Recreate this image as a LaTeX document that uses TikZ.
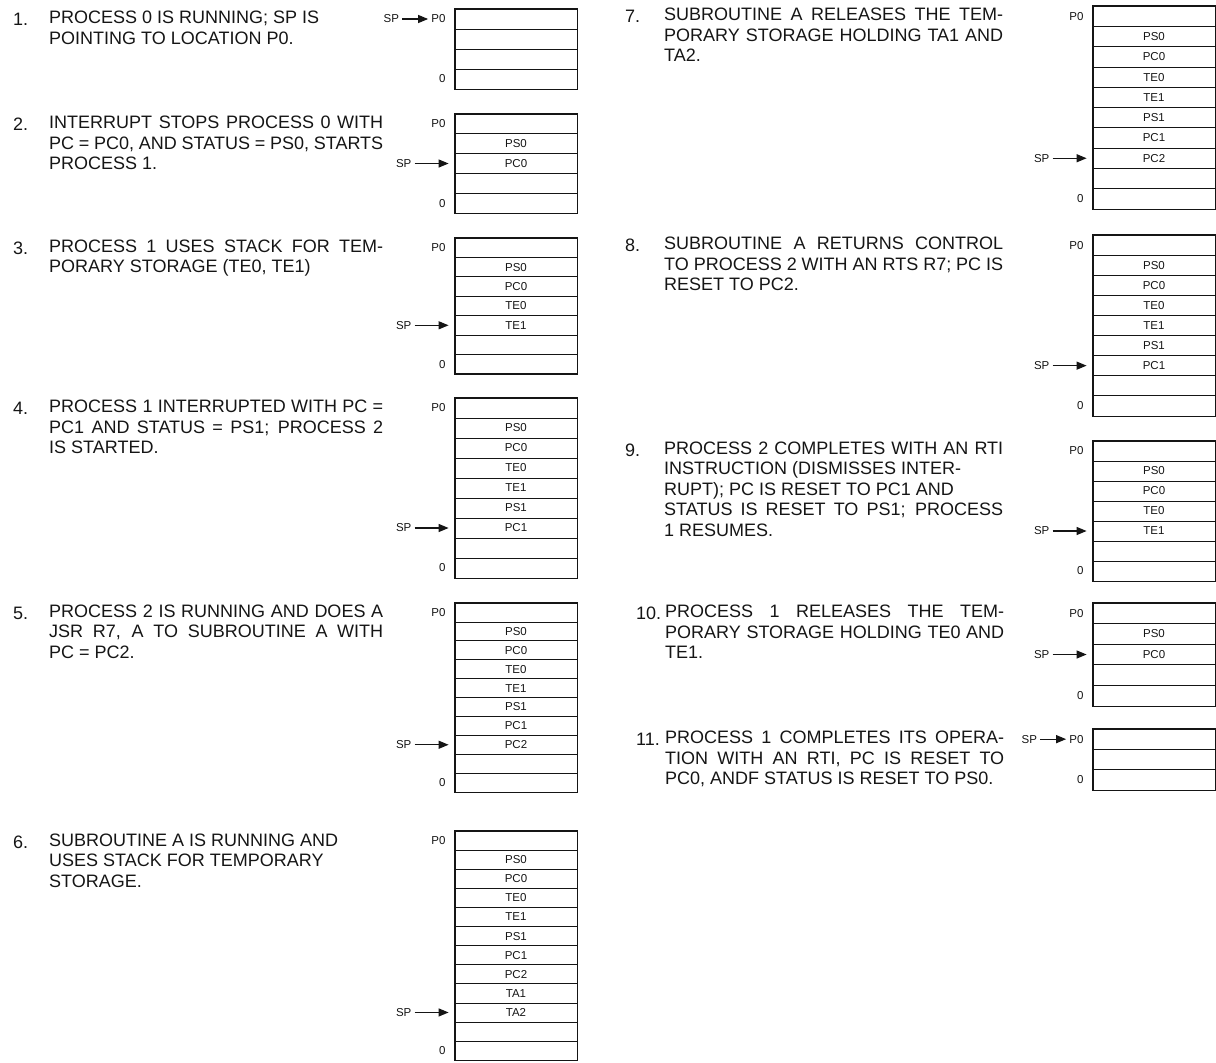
\documentclass[tikz,border=0pt]{standalone}
\usepackage{fontspec}
\setmainfont{Liberation Sans}
\usepackage{tikz}
\usetikzlibrary{arrows.meta, positioning}
\definecolor{cInk}{HTML}{151515}
\newlength{\colw}
\newcommand{\jline}[1]{\makebox[\colw][s]{#1}}
\tikzset{
  cell/.style={rectangle, draw=cInk, line width=0.8pt, minimum width=122pt, inner sep=0pt,
               font=\fontsize{11.5}{13}\selectfont, text=cInk},
  frame/.style={draw=cInk, line width=1.6pt},
  lab/.style={font=\fontsize{11.5}{13}\selectfont, text=cInk, inner sep=0pt},
  num/.style={font=\fontsize{18}{20.5}\selectfont, text=cInk, inner sep=0pt, anchor=base west},
  desc/.style={num, align=left, anchor=north west, execute at begin node=\strut},
  ptr/.style={-{Triangle[length=10pt, width=8pt]}, line width=1.2pt, draw=cInk},
}

\begin{document}
\begin{tikzpicture}[x=1pt, y=-1pt]
  \useasboundingbox (0,0) rectangle (1216,1063);

  % ---- stacks: number / left x / top / row height / rows / SP row / cells
  \foreach \s/\xl/\yt/\hh/\nn/\spr/\cells in {
      1/455/9/20/4/1/{{},{},{},{}},
      2/455/114/19.8/5/3/{{},PS0,PC0,{},{}},
      3/455/238/19.4/7/5/{{},PS0,PC0,TE0,TE1,{},{}},
      4/455/398/20/9/7/{{},PS0,PC0,TE0,TE1,PS1,PC1,{},{}},
      5/455/603/18.9/10/8/{{},PS0,PC0,TE0,TE1,PS1,PC1,PC2,{},{}},
      6/455/831/19.1/12/10/{{},PS0,PC0,TE0,TE1,PS1,PC1,PC2,TA1,TA2,{},{}},
      7/1093/6/20.3/10/8/{{},PS0,PC0,TE0,TE1,PS1,PC1,PC2,{},{}},
      8/1093/235/20.1/9/7/{{},PS0,PC0,TE0,TE1,PS1,PC1,{},{}},
      9/1093/441/20/7/5/{{},PS0,PC0,TE0,TE1,{},{}},
      10/1093/603/20.6/5/3/{{},PS0,PC0,{},{}},
      11/1093/729/20.3/3/1/{{},{},{}}} {
    \foreach \c [count=\r] in \cells
      \node[cell, minimum height=\hh pt] (c\s-\r) at (\xl+61, \yt+\r*\hh-\hh/2) {\c};
    \draw[frame] (c\s-1.north west) rectangle (c\s-\nn.south east);
    \node[lab, left=9pt of c\s-1] (p\s) {P0};
    \node[lab, left=9pt of c\s-\nn] (z\s) {0};
    \ifnum\spr=1
      \node[lab, left=32pt of p\s] (sp\s) {SP};
      \draw[ptr, shorten <=3pt, shorten >=3pt] (sp\s) -- (p\s);
    \else
      \node[lab, left=43pt of c\s-\spr] (sp\s) {SP};
      \draw[ptr, shorten <=3pt] (sp\s) -- ([xshift=-6pt]c\s-\spr.west);
    \fi
  }

  % ---- steps, left column
  \setlength{\colw}{334pt}
  \node[num] (n1) at (13,25.5) {1.};
  \node[desc] (t1) at (49,11.15) {PROCESS 0 IS RUNNING; SP IS\\ POINTING TO LOCATION P0.};
  \node[num] (n2) at (13,130.5) {2.};
  \node[desc] (t2) at (49,116.15) {\jline{INTERRUPT STOPS PROCESS 0 WITH}\\ \jline{PC = PC0, AND STATUS = PS0, STARTS}\\ PROCESS 1.};
  \node[num] (n3) at (13,254) {3.};
  \node[desc] (t3) at (49,239.65) {\jline{PROCESS 1 USES STACK FOR TEM-}\\ PORARY STORAGE (TE0, TE1)};
  \node[num] (n4) at (13,414.5) {4.};
  \node[desc] (t4) at (49,400.15) {\jline{PROCESS 1 INTERRUPTED WITH PC =}\\ \jline{PC1 AND STATUS = PS1; PROCESS 2}\\ IS STARTED.};
  \node[num] (n5) at (13,619) {5.};
  \node[desc] (t5) at (49,604.65) {\jline{PROCESS 2 IS RUNNING AND DOES A}\\ \jline{JSR R7, A TO SUBROUTINE A WITH}\\ PC = PC2.};
  \node[num] (n6) at (13,848) {6.};
  \node[desc] (t6) at (49,833.65) {SUBROUTINE A IS RUNNING AND\\ USES STACK FOR TEMPORARY\\ STORAGE.};

  % ---- steps, right column
  \setlength{\colw}{339pt}
  \node[num] (n7) at (625,22.5) {7.};
  \node[desc] (t7) at (664,8.15) {\jline{SUBROUTINE A RELEASES THE TEM-}\\ \jline{PORARY STORAGE HOLDING TA1 AND}\\ TA2.};
  \node[num] (n8) at (625,251.5) {8.};
  \node[desc] (t8) at (664,237.15) {\jline{SUBROUTINE A RETURNS CONTROL}\\ \jline{TO PROCESS 2 WITH AN RTS R7; PC IS}\\ RESET TO PC2.};
  \node[num] (n9) at (625,456) {9.};
  \node[desc] (t9) at (664,441.65) {\jline{PROCESS 2 COMPLETES WITH AN RTI}\\ INSTRUCTION (DISMISSES INTER-\\ RUPT); PC IS RESET TO PC1 AND\\ \jline{STATUS IS RESET TO PS1; PROCESS}\\ 1 RESUMES.};
  \node[num] (n10) at (636,619.5) {10.};
  \node[desc] (t10) at (665,605.15) {\jline{PROCESS 1 RELEASES THE TEM-}\\ \jline{PORARY STORAGE HOLDING TE0 AND}\\ TE1.};
  \node[num] (n11) at (636,745.5) {11.};
  \node[desc] (t11) at (665,731.15) {\jline{PROCESS 1 COMPLETES ITS OPERA-}\\ \jline{TION WITH AN RTI, PC IS RESET TO}\\ PC0, ANDF STATUS IS RESET TO PS0.};
\end{tikzpicture}
\end{document}
